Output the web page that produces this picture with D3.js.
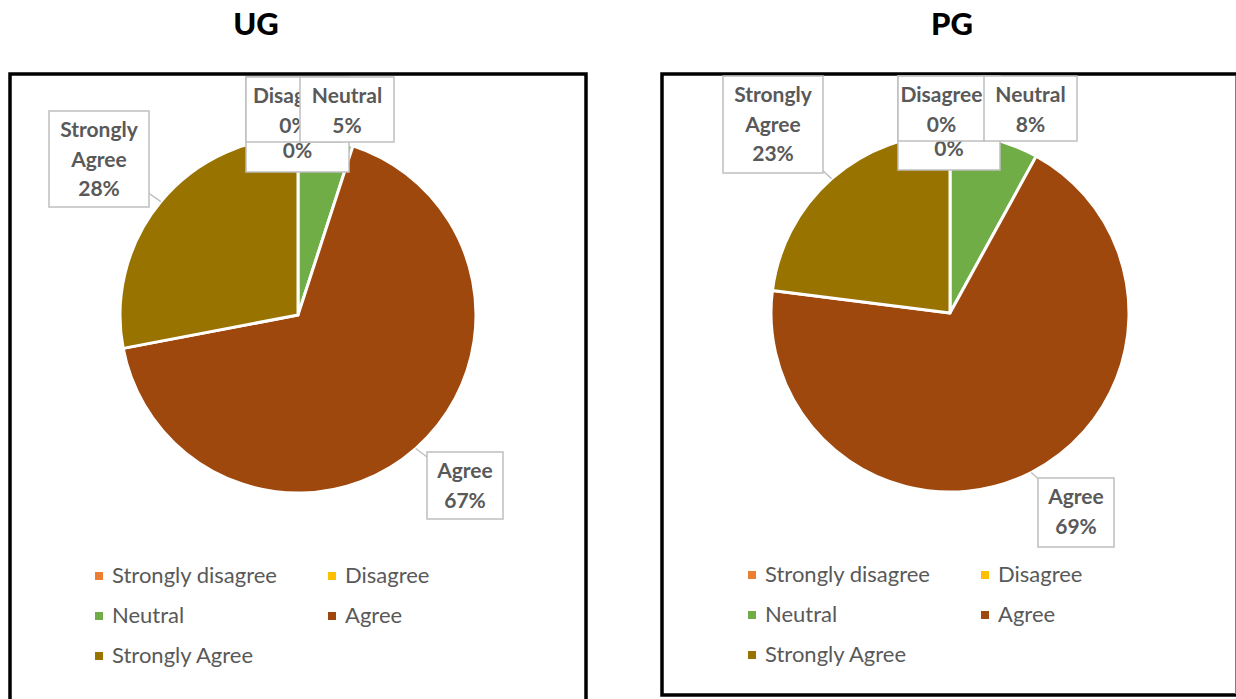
<!DOCTYPE html>
<html>
<head>
<meta charset="utf-8">
<script src="https://cdn.jsdelivr.net/npm/d3@7"></script>
<style>
  body { margin: 0; background: #fff; }
  svg { display: block; font-family: Lato, "Open Sans", sans-serif; }
</style>
</head>
<body>
<svg id="chart" width="1236" height="699"></svg>
<script>
// Survey responses (share of respondents, %)
const categories = ["Strongly disagree", "Disagree", "Neutral", "Agree", "Strongly Agree"];
const groups = ["UG", "PG"];
const ugValues = [0, 0, 5, 67, 28];
const pgValues = [0, 0, 8, 69, 23];
const colors = ["#ED7D31", "#FFC000", "#70AD47", "#9E480E", "#997300"];

// Panel layout: frame, title, pie and legend placement
const panels = [
  {
    name: groups[0], values: ugValues,
    frame: { x: 10, y: 74, w: 576, h: 700 },
    titleX: 256, cx: 298, cy: 315, r: 178,
    legend: { x: 95, y: 583, colGap: 233, rowGap: 40 },
    // label boxes in draw order; later boxes sit on top of earlier ones
    boxes: [
      { x: 246, y: 77, w: 103, h: 95, onlyLast: true },
      { x: 246, y: 77, w: 96, h: 65, clipRight: 300 },
      { x: 300, y: 77, w: 94, h: 65 },
      { x: 427, y: 452, w: 76, h: 67, leader: true },
      { x: 49, y: 111, w: 100, h: 96, leader: true }
    ]
  },
  {
    name: groups[1], values: pgValues,
    frame: { x: 662, y: 74, w: 620, h: 621 },
    titleX: 952, cx: 950, cy: 313, r: 179,
    legend: { x: 748, y: 582, colGap: 233, rowGap: 40 },
    boxes: [
      { x: 898, y: 76, w: 102, h: 94, onlyLast: true },
      { x: 898, y: 76, w: 87, h: 65, clipRight: 984 },
      { x: 984, y: 76, w: 93, h: 65 },
      { x: 1038, y: 478, w: 76, h: 69, leader: true },
      { x: 723, y: 76, w: 100, h: 97, leader: true }
    ]
  }
];

const svg = d3.select("#chart");
const defs = svg.append("defs");
const color = d3.scaleOrdinal().domain(categories).range(colors);
const pct = d3.format(".0%");
const labelColor = "#595959";
const boxStroke = "#BFBFBF";
const labelSize = 21;

panels.forEach((p, pi) => {
  const g = svg.append("g");

  // Title
  g.append("text")
    .attr("x", p.titleX).attr("y", 35)
    .attr("text-anchor", "middle")
    .attr("font-size", 31).attr("font-weight", 900)
    .attr("fill", "#000")
    .text(p.name);

  // Chart frame
  g.append("rect")
    .attr("x", p.frame.x).attr("y", p.frame.y)
    .attr("width", p.frame.w).attr("height", p.frame.h)
    .attr("fill", "#fff").attr("stroke", "#000").attr("stroke-width", 3.5);

  // Pie
  const data = categories.map((c, i) => ({ cat: c, value: p.values[i] }));
  const total = d3.sum(data, d => d.value);
  const pie = d3.pie().sort(null).value(d => d.value);
  const arcs = pie(data);
  const arc = d3.arc().innerRadius(0).outerRadius(p.r);

  const pieG = g.append("g").attr("transform", `translate(${p.cx},${p.cy})`);
  pieG.selectAll("path")
    .data(arcs.filter(a => a.data.value > 0))
    .join("path")
    .attr("d", arc)
    .attr("fill", a => color(a.data.cat))
    .attr("stroke", "#fff").attr("stroke-width", 3).attr("stroke-linejoin", "round");

  // Data labels
  arcs.forEach((a, i) => {
    const b = p.boxes[i];
    const lines = a.data.cat.split(" ").concat([pct(a.data.value / total)]);
    const lg = g.append("g");

    if (b.leader) {
      const mid = (a.startAngle + a.endAngle) / 2;
      const px = p.cx + p.r * Math.sin(mid);
      const py = p.cy - p.r * Math.cos(mid);
      const bcx = b.x + b.w / 2, bcy = b.y + b.h / 2;
      const dx = bcx - px, dy = bcy - py;
      // first crossing of the box edge on the way to the box centre
      const tx = dx !== 0 ? Math.min((b.x - px) / dx, (b.x + b.w - px) / dx) : -Infinity;
      const ty = dy !== 0 ? Math.min((b.y - py) / dy, (b.y + b.h - py) / dy) : -Infinity;
      const t = Math.max(tx, ty);
      lg.append("line")
        .attr("x1", px).attr("y1", py)
        .attr("x2", px + dx * t).attr("y2", py + dy * t)
        .attr("stroke", boxStroke).attr("stroke-width", 1.5);
    }

    lg.append("rect")
      .attr("x", b.x).attr("y", b.y).attr("width", b.w).attr("height", b.h)
      .attr("fill", "#fff").attr("stroke", boxStroke).attr("stroke-width", 1.5);

    const tg = lg.append("g");
    if (b.clipRight) {
      const id = `clip-${pi}-${i}`;
      defs.append("clipPath").attr("id", id)
        .append("rect").attr("x", b.x).attr("y", b.y)
        .attr("width", b.clipRight - b.x).attr("height", b.h);
      tg.attr("clip-path", `url(#${id})`);
    }
    const shown = b.onlyLast ? [lines.length - 1] : d3.range(lines.length);
    shown.forEach(li => {
      const y = b.onlyLast ? b.y + b.h - 14 : b.y + 26 + li * 29.5;
      const t = tg.append("text")
        .attr("x", b.x + b.w / 2).attr("y", y)
        .attr("text-anchor", "middle")
        .attr("font-size", labelSize).attr("font-weight", 700)
        .attr("fill", labelColor)
        .text(lines[li]);
      // a label tucked under its neighbour only shows the part left of it
      if (b.clipRight) {
        const full = t.node().getComputedTextLength();
        const x0 = b.x + b.w / 2 - full / 2;
        if (x0 + full > b.clipRight) {
          t.attr("text-anchor", "start").attr("x", x0);
          let s = lines[li];
          while (s.length > 1 && x0 + t.node().getSubStringLength(0, s.length - 1) > b.clipRight - 2) {
            s = s.slice(0, -1);
          }
          t.text(s);
        }
      }
    });
  });

  // Legend
  const leg = g.append("g");
  categories.forEach((c, i) => {
    const col = i % 2, row = Math.floor(i / 2);
    const x = p.legend.x + col * p.legend.colGap;
    const y = p.legend.y + row * p.legend.rowGap;
    leg.append("rect")
      .attr("x", x).attr("y", y - 11).attr("width", 8).attr("height", 8)
      .attr("fill", color(c));
    leg.append("text")
      .attr("x", x + 17).attr("y", y)
      .attr("font-size", 22).attr("fill", labelColor)
      .text(c);
  });
});

// thin edge on the right of the second panel
svg.append("line")
  .attr("x1", 1235.5).attr("x2", 1235.5).attr("y1", 76).attr("y2", 694)
  .attr("stroke", "#7F7F7F").attr("stroke-width", 1);
</script>
</body>
</html>
